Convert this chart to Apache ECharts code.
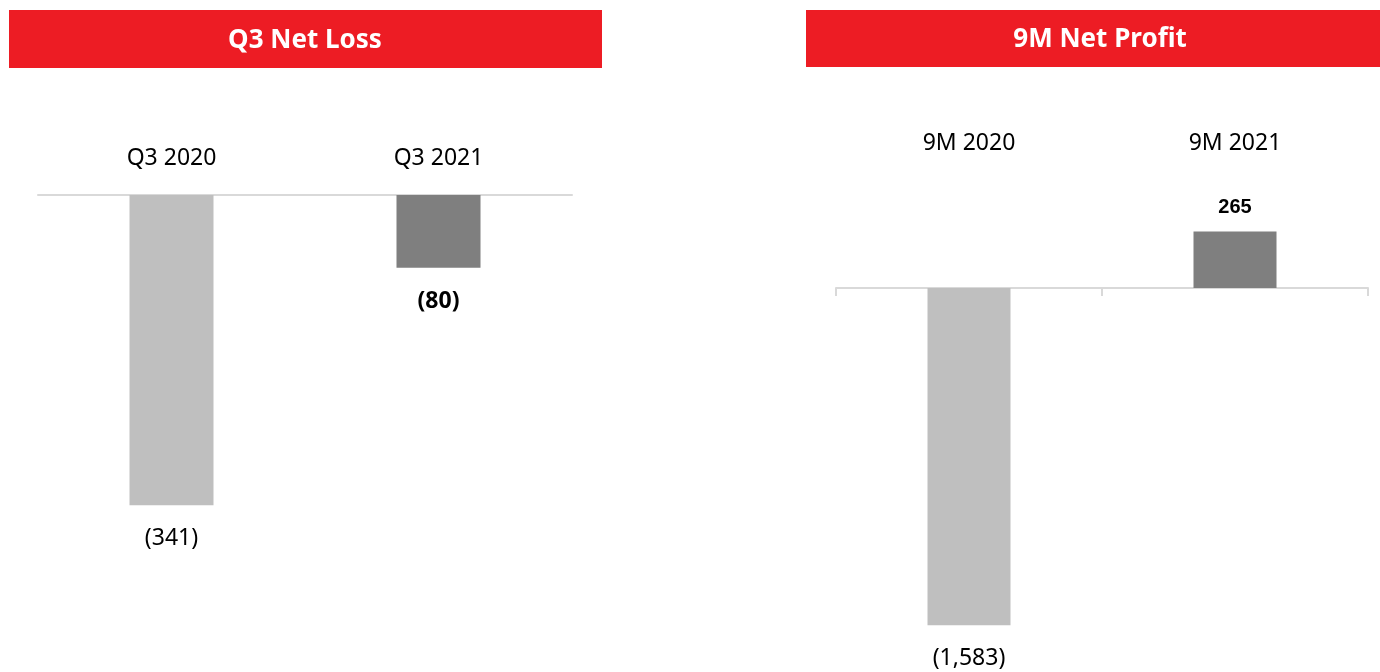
<!DOCTYPE html>
<html>
<head>
<meta charset="utf-8">
<script src="https://cdn.jsdelivr.net/npm/echarts@6/dist/echarts.min.js"></script>
<style>
  html, body { margin: 0; padding: 0; background: #fff; }
  #main { width: 1380px; height: 672px; }
</style>
</head>
<body>
<div id="main"></div>
<script>
// data
var leftTitle = "Q3 Net Loss";
var leftCategories = ["Q3 2020", "Q3 2021"];
var leftValues = [-341, -80];
var rightTitle = "9M Net Profit";
var rightCategories = ["9M 2020", "9M 2021"];
var rightValues = [-1583, 265];
var barColors = ["#bfbfbf", "#7f7f7f"];

function fmt(v) {
  var s = Math.abs(v).toLocaleString("en-US");
  return v < 0 ? "(" + s + ")" : s;
}

// 每根柱子的标签样式：最新一期加粗
function buildData(values, boldFont, normalFont) {
  return values.map(function (v, i) {
    var last = i === values.length - 1;
    return {
      value: v,
      itemStyle: { color: barColors[i] },
      label: {
        position: v < 0 ? "bottom" : "top",
        distance: v < 0 ? 22 : 14,
        fontFamily: last ? boldFont : normalFont,
        fontWeight: last ? "bold" : "normal",
        fontSize: last && v > 0 ? 20 : 23,
      },
    };
  });
}

var myChart = echarts.init(document.getElementById("main"));
var option = {
  animation: false,
  graphic: [
    { type: "rect", shape: { x: 9, y: 10, width: 593, height: 58 }, style: { fill: "#ed1c24" } },
    { type: "rect", shape: { x: 806, y: 10, width: 574, height: 57 }, style: { fill: "#ed1c24" } },
    {
      type: "text", x: 305, y: 41,
      style: { text: leftTitle, fill: "#fff", font: "bold 26px 'Noto Sans'", textAlign: "center", textVerticalAlign: "middle" },
    },
    {
      type: "text", x: 1100, y: 40,
      style: { text: rightTitle, fill: "#fff", font: "bold 26px 'Noto Sans'", textAlign: "center", textVerticalAlign: "middle" },
    },
  ],
  grid: [
    { left: 38, width: 534, top: 195, height: 455 },
    { left: 836, width: 532, top: 224.1, height: 426 },
  ],
  xAxis: [
    {
      gridIndex: 0,
      type: "category",
      position: "top",
      data: leftCategories,
      axisLine: { lineStyle: { color: "#d9d9d9", width: 2 } },
      axisTick: { show: false },
      axisLabel: { margin: 25, color: "#000", fontSize: 23, fontFamily: "Noto Sans" },
    },
    {
      gridIndex: 1,
      type: "category",
      data: rightCategories,
      axisLine: { onZero: true, lineStyle: { color: "#d9d9d9", width: 2 } },
      axisTick: { show: true, length: 8, lineStyle: { color: "#d9d9d9", width: 2 } },
      axisLabel: { show: false },
    },
    {
      gridIndex: 1,
      type: "category",
      position: "top",
      data: rightCategories,
      axisLine: { show: false },
      axisTick: { show: false },
      axisLabel: { margin: 69, color: "#000", fontSize: 23, fontFamily: "Noto Sans" },
    },
  ],
  yAxis: [
    { gridIndex: 0, type: "value", min: -500, max: 0, show: false },
    { gridIndex: 1, type: "value", min: -1700, max: 300, show: false },
  ],
  series: [
    {
      type: "bar",
      xAxisIndex: 0,
      yAxisIndex: 0,
      barWidth: 84,
      data: buildData(leftValues, "Noto Sans", "Noto Sans"),
      label: { show: true, color: "#000", formatter: function (p) { return fmt(p.value); } },
    },
    {
      type: "bar",
      xAxisIndex: 1,
      yAxisIndex: 1,
      barWidth: 83,
      data: buildData(rightValues, "Liberation Sans", "Noto Sans"),
      label: { show: true, color: "#000", formatter: function (p) { return fmt(p.value); } },
    },
  ],
};
myChart.setOption(option);
window.addEventListener("resize", function () {
  myChart.resize();
});
</script>
</body>
</html>
